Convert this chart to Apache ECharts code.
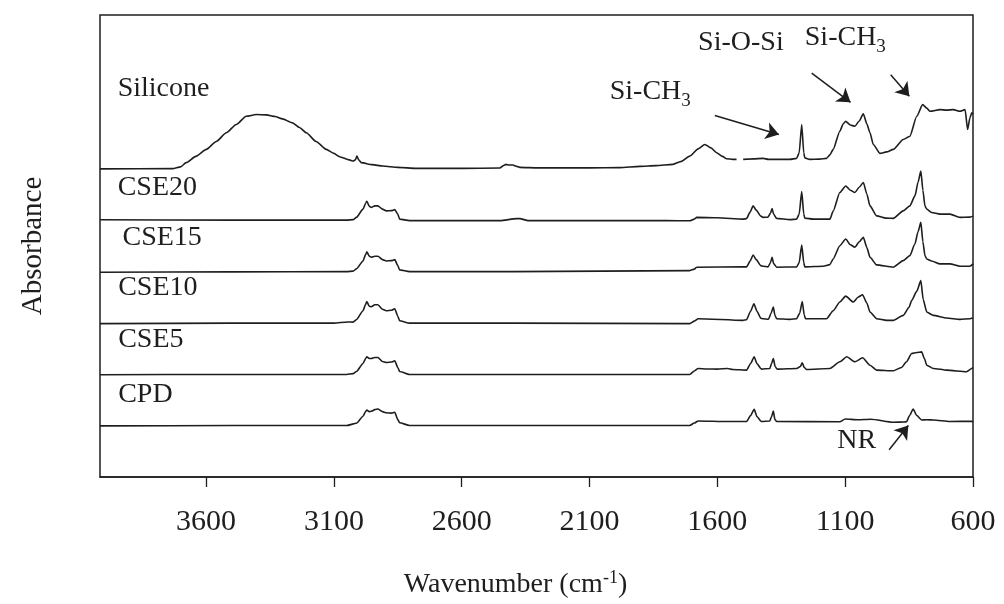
<!DOCTYPE html>
<html>
<head>
<meta charset="utf-8">
<script src="https://cdn.jsdelivr.net/npm/echarts@6/dist/echarts.min.js"></script>
<style>
  html, body { margin: 0; padding: 0; background: #fff; }
  #chart { width: 1004px; height: 604px; }
</style>
</head>
<body>
<div id="chart"></div>
<script>
// ---------- data ----------
const wavenumberTicks = [3600, 3100, 2600, 2100, 1600, 1100, 600];
const seriesNames = ['Silicone', 'CSE20', 'CSE15', 'CSE10', 'CSE5', 'CPD'];
// vertical offsets used to stack the spectra (a.u.)
const offsets = [309.5, 258, 206.3, 154.5, 103, 51.7];

// [wavenumber (cm-1), relative absorbance (a.u.)]
const silicone = [
  [4015,0],[3731,0.2],[3700,2],[3678,6.2],[3640,12.5],[3599,19.5],[3560,27.5],[3521,36.2],[3482,44.5],
  [3443,52.8],[3404,54.5],[3364,54.2],[3330,52.5],[3301,50.2],[3262,46.2],[3235,41.5],[3208,36.2],
  [3170,27.5],[3130,19.5],[3100,15.5],[3078,12.2],[3040,9],[3025,7.8],[3016,9],[3010,12.8],[3003,9],
  [2993,6.2],[2950,4.2],[2909,2.8],[2850,1.5],[2777,0.5],[2600,0.5],[2451,0.8],[2435,3.5],[2428,4.5],
  [2415,3.8],[2400,3.8],[2385,2.5],[2373,1.5],[2300,1],[2100,1],[1982,1.2],[1903,2.5],[1840,3.2],
  [1774,4.5],[1740,7.5],[1708,12.8],[1675,20],[1649,24.5],[1625,21],[1603,16.2],[1580,12.5],[1564,10.2],
  [1540,9.5],[1525,9.5],[1512,null],[1499,9.5],[1460,10],[1421,10.5],[1400,9.5],[1316,9.5],[1290,10.5],
  [1280,16],[1270,44.5],[1262,16],[1258,11],[1238,9.5],[1200,9.8],[1173,10.5],[1160,14],[1147,19.5],
  [1121,37.8],[1108,45],[1098,47.8],[1080,44],[1062,42.8],[1045,48],[1029,55.2],[1015,45],[1003,36.2],
  [990,24.5],[964,15.5],[938,17],[912,19.5],[873,29.5],[847,32.8],[820,52.8],[797,64.5],[781,61],
  [768,57.8],[729,59.5],[703,59],[677,59.5],[651,57.8],[631,59.5],[621,39.5],[612,51.2],[605,56.2],[600,55]
];
const cse20 = [
  [4015,0.3],[3500,0],[3100,0],[3050,0],[3025,0.5],[3012,2.7],[2986,11],[2976,17],[2971,19],[2962,14],
  [2954,12.7],[2940,14.3],[2928,14.3],[2910,11],[2895,9.3],[2875,9.5],[2862,10.5],[2850,6],[2843,1],
  [2804,-0.5],[2450,-0.5],[2385,1.5],[2373,1.5],[2340,-0.5],[1800,-0.5],[1708,-0.7],[1690,1],[1681,2.7],
  [1600,2.3],[1499,1],[1486,1.5],[1472,8],[1460,14.3],[1448,10],[1430,4],[1421,2.7],[1402,3],[1392,7],
  [1386,11.7],[1380,6],[1368,1.7],[1316,0.5],[1290,1],[1280,6],[1270,28.7],[1262,6],[1258,2],[1225,1],
  [1160,1],[1147,9],[1121,27.7],[1098,34.3],[1080,30],[1062,27.7],[1045,33],[1029,37.7],[1015,26],
  [1003,14.3],[977,4.3],[940,2],[912,1.7],[873,9.3],[847,14.3],[827,24.3],[815,38],[804,49.3],[796,30],
  [788,14.3],[781,11],[762,7.7],[729,6],[690,6],[651,2.7],[612,3],[600,4]
];
const cse15 = [
  [4015,-0.6],[3500,-0.3],[3050,0],[3025,0.5],[3012,2.7],[2986,10.7],[2976,17],[2971,20],[2962,15.5],
  [2954,14.4],[2940,15.4],[2928,15.4],[2910,12],[2895,10.7],[2875,11],[2862,12],[2850,6],[2843,1.7],
  [2804,0],[2400,0],[1708,1],[1690,2.5],[1681,4.4],[1499,4.7],[1486,4.7],[1472,10.5],[1460,16.7],
  [1448,12],[1430,6],[1421,5.4],[1402,4.7],[1392,9],[1386,14.4],[1380,8],[1368,4.4],[1290,4.7],[1280,9],
  [1270,26.7],[1262,9],[1258,4.7],[1186,5.4],[1160,7],[1147,12.7],[1121,26],[1098,32.7],[1080,27],
  [1062,24.4],[1045,30],[1029,34.4],[1015,24],[1003,14.4],[977,6.7],[912,4.4],[873,11],[847,16],
  [827,28],[815,40],[804,49.4],[796,30],[788,16],[781,12.7],[762,10.7],[729,7.7],[690,7.7],[651,5.4],
  [612,5.4],[600,7.7]
];
const cse10 = [
  [4015,-0.5],[3500,0],[3100,0],[3046,1.2],[3025,1],[3012,3.5],[2986,12.5],[2976,19],[2971,21.8],
  [2962,17],[2954,16.5],[2940,18.5],[2928,18.5],[2910,14],[2895,12.5],[2875,13],[2862,14.5],[2850,7],
  [2843,2.5],[2804,0],[2400,0],[1708,-0.5],[1690,2],[1675,4.5],[1500,2.8],[1486,3.5],[1470,12],
  [1457,19.5],[1445,12],[1430,5],[1421,4.5],[1400,4],[1390,10],[1381,16.2],[1375,8],[1368,4.5],
  [1316,3.8],[1290,4.5],[1278,10],[1268,21.8],[1260,8],[1255,4.5],[1173,4.5],[1147,12.5],[1121,21.2],
  [1098,27.2],[1068,21.2],[1050,26],[1032,28.5],[1015,20],[1003,11.2],[977,4.5],[938,2.8],[912,2.8],
  [873,7.8],[850,16],[840,22.8],[820,32],[804,42.8],[795,24],[781,11.2],[755,7.8],[703,5.2],[651,3.8],
  [612,4.5],[600,5.5]
];
const cse5 = [
  [4015,-0.3],[3500,0],[3050,0],[3025,0.8],[3012,3],[2986,11],[2976,16],[2971,17.7],[2962,16],
  [2954,16],[2940,17],[2928,17],[2910,13],[2895,12],[2875,12.5],[2862,13.7],[2850,7],[2843,3],
  [2804,0],[2400,0],[1708,0],[1690,3.5],[1675,6],[1640,5.5],[1600,5.3],[1560,6],[1540,5],[1486,4.3],
  [1470,11],[1456,17.7],[1445,11],[1430,6],[1427,5.3],[1395,6],[1388,11],[1381,16],[1374,8],[1366,5.3],
  [1290,6],[1275,8],[1268,11.7],[1260,7],[1251,5],[1160,6],[1121,12.7],[1094,17.7],[1062,12.7],
  [1032,16.7],[1003,9.3],[977,4.3],[912,3.7],[880,7],[860,12.7],[840,21],[820,22],[801,22.7],[790,16],
  [781,9.3],[755,6],[703,4.3],[625,2.7],[605,6],[600,7]
];
const cpd = [
  [4015,-0.4],[3500,0],[3050,0],[3012,2.3],[2986,9.3],[2976,14],[2971,15.6],[2962,14],[2954,14.3],
  [2940,16],[2928,16.6],[2910,14],[2895,12.8],[2875,12.5],[2862,13.3],[2850,6],[2843,2.8],[2804,0],
  [2400,0],[1708,0],[1690,2.5],[1675,4.6],[1560,4],[1486,4],[1470,10],[1456,16.3],[1445,9],[1430,4.5],
  [1427,4],[1395,4.5],[1388,9],[1381,14.6],[1375,6],[1368,4],[1121,3.8],[1100,6.6],[1050,5.8],
  [1000,6.3],[912,3.3],[870,3.5],[860,3.8],[848,10],[834,16.6],[820,10],[801,5.6],[781,5.8],[755,5.6],
  [690,4],[605,4.3],[600,3.4]
];
const spectra = [silicone, cse20, cse15, cse10, cse5, cpd];

// ---------- chart ----------
const FONT = '"Liberation Serif", "Times New Roman", serif';
const INK = '#1e1e1e';

// name labels for each spectrum, in data coordinates [wavenumber, stacked absorbance]
const nameLabelAt = [[3946, 390], [3946, 291], [3927, 240], [3944, 190], [3944, 138], [3944, 83]];

// band assignments (text in data coords) and arrows (start -> end)
const bandTexts = [
  { text: 'Si-O-Si', at: [1508, 436], align: 'center' },
  { text: 'Si-CH{sub|3}', at: [1258, 441], align: 'left' },
  { text: 'Si-CH{sub|3}', at: [2021, 387], align: 'left' },
  { text: 'NR', at: [1131, 36.5], align: 'left' }
];
const bandArrows = [
  [[1610, 363], [1359, 344]],
  [[1231, 405.7], [1079, 376.3]],
  [[922, 404], [849, 382.3]],
  [[928, 27.3], [853, 51.7]]
];

const chart = echarts.init(document.getElementById('chart'), null, { renderer: 'canvas' });

const series = spectra.map((sp, i) => {
  const s = {
    name: seriesNames[i],
    type: 'line',
    showSymbol: false,
    symbol: 'none',
    smooth: 0.2,
    smoothMonotone: 'x',
    connectNulls: false,
    animation: false,
    lineStyle: { color: INK, width: 1.6 },
    data: sp.map(([w, a]) => [w, a === null ? '-' : +(a + offsets[i]).toFixed(2)]),
    markPoint: {
      silent: true,
      animation: false,
      symbol: 'rect',
      symbolSize: 0,
      data: [{
        coord: nameLabelAt[i],
        label: {
          show: true, formatter: seriesNames[i], position: [0, 0],
          align: 'left', verticalAlign: 'middle',
          fontFamily: FONT, fontSize: 28, color: INK
        }
      }]
    }
  };
  if (i === 0) {
    s.markPoint.data = s.markPoint.data.concat(bandTexts.map(b => ({
      coord: b.at,
      label: {
        show: true, formatter: b.text, position: [0, 0],
        align: b.align, verticalAlign: 'middle',
        fontFamily: FONT, fontSize: 28, color: INK,
        rich: { sub: { fontFamily: FONT, fontSize: 19, color: INK, padding: [18, 0, 0, 0] } }
      }
    })));
    s.markLine = {
      silent: true,
      animation: false,
      symbol: ['none', 'arrow'],
      symbolSize: 13,
      lineStyle: { color: INK, width: 1.5, type: 'solid' },
      label: { show: false },
      data: bandArrows.map(([a, b]) => [{ coord: a }, { coord: b }])
    };
  }
  return s;
});

chart.setOption({
  backgroundColor: '#fff',
  animation: false,
  grid: {
    left: 100, right: 31, top: 15, bottom: 125,
    show: true, borderColor: INK, borderWidth: 1.5, backgroundColor: 'transparent'
  },
  xAxis: {
    type: 'value',
    inverse: true,
    min: 600,
    max: 4015,
    splitLine: { show: false },
    axisLine: { show: true, lineStyle: { color: INK, width: 1.5 } },
    axisTick: { show: true, customValues: wavenumberTicks, length: 10, lineStyle: { color: INK, width: 1.3 } },
    axisLabel: {
      show: true, customValues: wavenumberTicks, margin: 30,
      formatter: v => String(v),
      fontFamily: FONT, fontSize: 30, color: INK
    },
    name: 'Wavenumber (cm{sup|-1})',
    nameLocation: 'middle',
    nameGap: 92,
    nameTextStyle: {
      fontFamily: FONT, fontSize: 28, color: INK, padding: [0, 42, 0, 0],
      rich: { sup: { fontFamily: FONT, fontSize: 18, color: INK, padding: [0, 0, 14, 0] } }
    }
  },
  yAxis: {
    type: 'value',
    min: 0,
    max: 464,
    splitLine: { show: false },
    axisLine: { show: false },
    axisTick: { show: false },
    axisLabel: { show: false },
    name: 'Absorbance',
    nameLocation: 'middle',
    nameGap: 52,
    nameTextStyle: { fontFamily: FONT, fontSize: 29, color: INK }
  },
  series: series
});
</script>
</body>
</html>
